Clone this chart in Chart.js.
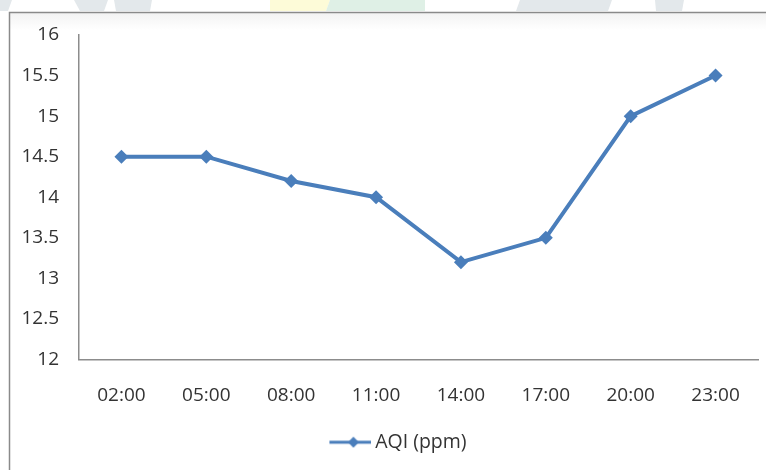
<!DOCTYPE html>
<html>
<head>
<meta charset="utf-8">
<script src="https://cdn.jsdelivr.net/npm/chart.js@4/dist/chart.umd.min.js"></script>
<style>
  html, body { margin: 0; padding: 0; background: #ffffff; }
  #wrap { width: 766px; height: 470px; position: relative; }
</style>
</head>
<body>
<div id="wrap"><canvas id="c" width="766" height="470"></canvas></div>
<script>
// Hourly air-quality readings
const hours = ['02:00', '05:00', '08:00', '11:00', '14:00', '17:00', '20:00', '23:00'];
const aqiValues = [14.5, 14.5, 14.2, 14.0, 13.2, 13.5, 15.0, 15.5];
const seriesName = 'AQI (ppm)';
const yMin = 12, yMax = 16, yStep = 0.5;

const lineBlue = '#4a7ebb';
const textGrey = '#333333';
const axisGrey = '#8c8c8c';
const fontFamily = '"Open Sans", Lato, "DejaVu Sans", sans-serif';
const fontSize = 19;

// legend symbol: short line with a diamond, with blank space on its left
const LEG_PAD = 44, LEG_LINE = 42;
function legendSymbol() {
  const cv = document.createElement('canvas');
  cv.width = LEG_PAD + LEG_LINE; cv.height = 12;
  const g = cv.getContext('2d');
  g.strokeStyle = lineBlue; g.lineWidth = 3;
  g.beginPath(); g.moveTo(LEG_PAD, 6); g.lineTo(LEG_PAD + LEG_LINE, 6); g.stroke();
  const cx = LEG_PAD + 24;
  g.fillStyle = lineBlue;
  g.beginPath(); g.moveTo(cx, 0.5); g.lineTo(cx + 5.5, 6); g.lineTo(cx, 11.5); g.lineTo(cx - 5.5, 6); g.closePath(); g.fill();
  return cv;
}

// frame and faint header decoration
const framePlugin = {
  id: 'frame',
  beforeDraw(chart) {
    const ctx = chart.ctx;
    ctx.save();
    ctx.fillStyle = '#ffffff';
    ctx.fillRect(0, 0, chart.width, chart.height);
    const shapes = [
      ['#e3e8eb', [[0, 0], [12, 0], [8, 11], [0, 11]]],
      ['#e3e8eb', [[74, 0], [108, 0], [104, 11], [80, 11]]],
      ['#e3e8eb', [[114, 0], [152, 0], [150, 11], [116, 11]]],
      ['#fdfbd8', [[270, 0], [330, 0], [326, 11], [270, 11]]],
      ['#dff0e6', [[330, 0], [425, 0], [425, 11], [326, 11]]],
      ['#e3e8eb', [[520, 0], [612, 0], [608, 11], [516, 11]]],
      ['#e3e8eb', [[655, 0], [684, 0], [682, 11], [656, 11]]]
    ];
    shapes.forEach(([col, pts]) => {
      ctx.fillStyle = col;
      ctx.beginPath();
      pts.forEach((p, i) => i ? ctx.lineTo(p[0], p[1]) : ctx.moveTo(p[0], p[1]));
      ctx.closePath(); ctx.fill();
    });
    const grad = ctx.createLinearGradient(0, 12, 0, 30);
    grad.addColorStop(0, '#f2f2f2'); grad.addColorStop(1, '#ffffff');
    ctx.fillStyle = grad;
    ctx.fillRect(10, 13, chart.width - 10, 17);
    ctx.strokeStyle = '#8a8a8a'; ctx.lineWidth = 1.5;
    ctx.beginPath();
    ctx.moveTo(9.5, chart.height); ctx.lineTo(9.5, 12.5); ctx.lineTo(chart.width, 12.5);
    ctx.stroke();
    ctx.restore();
  }
};

const chart = new Chart(document.getElementById('c'), {
  type: 'line',
  data: {
    labels: hours,
    datasets: [{
      label: seriesName,
      data: aqiValues,
      borderColor: lineBlue,
      backgroundColor: lineBlue,
      borderWidth: 4,
      pointStyle: 'rectRot',
      pointRadius: 7,
      pointHoverRadius: 7,
      pointBorderWidth: 0,
      pointBackgroundColor: lineBlue,
      tension: 0,
      fill: false
    }]
  },
  options: {
    responsive: false,
    animation: false,
    events: [],
    layout: { padding: { left: 0, right: 8, top: 35, bottom: 8 } },
    plugins: {
      tooltip: { enabled: false },
      legend: {
        position: 'bottom',
        labels: {
          color: textGrey,
          font: { family: fontFamily, size: 19.5 },
          usePointStyle: true,
          pointStyleWidth: LEG_PAD + LEG_LINE - 12,
          padding: 4,
          generateLabels(ch) {
            return ch.data.datasets.map((ds, i) => ({
              text: ds.label,
              fillStyle: lineBlue,
              strokeStyle: lineBlue,
              lineWidth: 0,
              pointStyle: legendSymbol(),
              fontColor: textGrey,
              hidden: false,
              datasetIndex: i
            }));
          }
        }
      }
    },
    scales: {
      x: {
        offset: true,
        grid: { display: false, drawTicks: false },
        border: { display: true, color: axisGrey, width: 1.5 },
        ticks: { color: textGrey, font: { family: fontFamily, size: fontSize }, padding: 25, maxRotation: 0 },
        afterFit(s) { s.height = 69; }
      },
      y: {
        min: yMin, max: yMax,
        grid: { display: false, drawTicks: false },
        border: { display: true, color: axisGrey, width: 1.5 },
        ticks: {
          stepSize: yStep,
          color: textGrey,
          font: { family: fontFamily, size: fontSize },
          padding: 20,
          callback: v => String(v)
        },
        afterFit(s) { s.width = 79; }
      }
    }
  },
  plugins: [framePlugin]
});
</script>
</body>
</html>
